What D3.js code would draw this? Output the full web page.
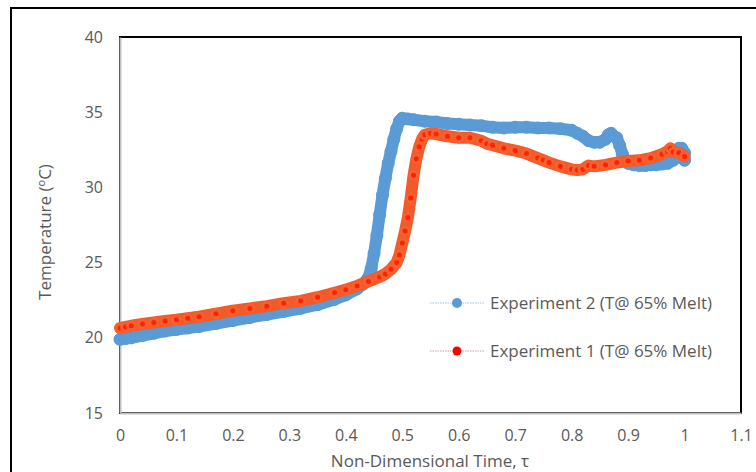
<!DOCTYPE html>
<html>
<head>
<meta charset="utf-8">
<script src="https://cdn.jsdelivr.net/npm/d3@7"></script>
<style>
  html, body { margin: 0; padding: 0; background: #fff; }
  svg { display: block; }
  text { font-family: "Liberation Sans Narrow", "Open Sans", "Noto Sans", sans-serif; fill: #595959; }
</style>
</head>
<body>
<svg id="chart" width="756" height="472"></svg>
<script>
// Experiment 2 (T @ 65% melt)
const exp2Tau = [0, 0.01, 0.02, 0.04, 0.06, 0.08, 0.1, 0.12, 0.14, 0.17, 0.2, 0.23, 0.26, 0.29, 0.32, 0.35, 0.38, 0.4, 0.42, 0.43, 0.44, 0.445, 0.45, 0.455, 0.46, 0.465, 0.47, 0.475, 0.48, 0.485, 0.49, 0.495, 0.5, 0.51, 0.52, 0.54, 0.56, 0.58, 0.6, 0.62, 0.64, 0.66, 0.68, 0.7, 0.72, 0.74, 0.76, 0.78, 0.8, 0.81, 0.82, 0.83, 0.84, 0.85, 0.86, 0.865, 0.87, 0.875, 0.88, 0.885, 0.89, 0.895, 0.9, 0.91, 0.92, 0.93, 0.94, 0.95, 0.96, 0.97, 0.98, 0.99, 0.995, 1.0, 1.0];
const exp2Temp = [19.9, 19.95, 20.0, 20.15, 20.3, 20.45, 20.55, 20.65, 20.75, 20.95, 21.15, 21.35, 21.55, 21.75, 21.95, 22.2, 22.55, 22.85, 23.25, 23.55, 24.0, 24.6, 25.6, 26.8, 28.2, 29.5, 30.6, 31.6, 32.4, 33.2, 33.9, 34.4, 34.6, 34.55, 34.5, 34.4, 34.35, 34.25, 34.2, 34.15, 34.1, 34.0, 33.95, 34.0, 34.0, 33.95, 33.95, 33.9, 33.8, 33.6, 33.4, 33.1, 33.0, 33.0, 33.2, 33.5, 33.6, 33.4, 33.3, 32.8, 32.2, 31.8, 31.6, 31.5, 31.45, 31.45, 31.5, 31.5, 31.55, 31.6, 31.8, 32.6, 32.6, 32.3, 31.8];

// Experiment 1 (T @ 65% melt)
const exp1Tau = [0, 0.01, 0.02, 0.04, 0.06, 0.08, 0.1, 0.12, 0.14, 0.17, 0.2, 0.23, 0.26, 0.29, 0.32, 0.35, 0.38, 0.4, 0.42, 0.44, 0.46, 0.47, 0.48, 0.49, 0.495, 0.5, 0.505, 0.51, 0.515, 0.52, 0.525, 0.53, 0.535, 0.54, 0.55, 0.56, 0.58, 0.6, 0.62, 0.64, 0.65, 0.66, 0.68, 0.7, 0.72, 0.74, 0.75, 0.76, 0.78, 0.8, 0.81, 0.82, 0.83, 0.84, 0.86, 0.88, 0.9, 0.92, 0.94, 0.96, 0.97, 0.975, 0.98, 0.99, 1.0];
const exp1Temp = [20.65, 20.72, 20.8, 20.92, 21.02, 21.12, 21.2, 21.3, 21.4, 21.6, 21.8, 21.95, 22.1, 22.3, 22.45, 22.7, 23.0, 23.2, 23.45, 23.75, 24.05, 24.25, 24.55, 25.0, 25.5, 26.3, 27.1, 28.0, 29.3, 30.8, 31.9, 32.7, 33.2, 33.5, 33.6, 33.55, 33.4, 33.3, 33.3, 33.1, 32.9, 32.8, 32.6, 32.45, 32.25, 31.95, 31.8, 31.65, 31.4, 31.2, 31.15, 31.2, 31.45, 31.4, 31.5, 31.65, 31.75, 31.8, 31.95, 32.2, 32.4, 32.6, 32.35, 32.3, 32.05];

const xTicks = [0, 0.1, 0.2, 0.3, 0.4, 0.5, 0.6, 0.7, 0.8, 0.9, 1, 1.1];
const yTicks = [15, 20, 25, 30, 35, 40];
const seriesNames = ["Experiment 2 (T@ 65% Melt)", "Experiment 1 (T@ 65% Melt)"];

const svg = d3.select("#chart");
const plot = { left: 120, top: 37, right: 741, bottom: 413 };

const x = d3.scaleLinear().domain([0, 1.1]).range([plot.left, plot.right]);
const y = d3.scaleLinear().domain([15, 40]).range([plot.bottom, plot.top]);

// outer chart frame
svg.append("rect")
  .attr("x", 11).attr("y", 8).attr("width", 800).attr("height", 500)
  .attr("fill", "none").attr("stroke", "#000").attr("stroke-width", 2);

// plot area frame
svg.append("rect")
  .attr("x", plot.left).attr("y", plot.top)
  .attr("width", plot.right - plot.left).attr("height", plot.bottom - plot.top)
  .attr("fill", "none").attr("stroke", "#000").attr("stroke-width", 2);

// axes (gray lines, no tick marks)
const xAxis = svg.append("g")
  .attr("transform", `translate(0,${plot.bottom})`)
  .call(d3.axisBottom(x).tickValues(xTicks).tickSize(0).tickPadding(17)
    .tickFormat(d => d3.format("~g")(d)));
xAxis.select(".domain").attr("stroke", "#bfbfbf").attr("stroke-width", 2);
xAxis.selectAll("text").attr("font-size", 16).attr("fill", "#595959");

const yAxis = svg.append("g")
  .attr("transform", `translate(${plot.left},0)`)
  .call(d3.axisLeft(y).tickValues(yTicks).tickSize(0).tickPadding(17));
yAxis.select(".domain").attr("stroke", "#bfbfbf").attr("stroke-width", 2);
yAxis.selectAll("text").attr("font-size", 16).attr("fill", "#595959");

// axis titles
svg.append("text")
  .attr("x", 430).attr("y", 467)
  .attr("text-anchor", "middle").attr("font-size", 17)
  .text("Non-Dimensional Time, τ");

const yTitle = svg.append("text")
  .attr("transform", "translate(51,232) rotate(-90)")
  .attr("text-anchor", "middle").attr("font-size", 17);
yTitle.append("tspan").text("Temperature (");
yTitle.append("tspan").attr("font-size", 11).attr("dy", -6).text("o");
yTitle.append("tspan").attr("dy", 6).text("C)");

const line = d3.line().x(d => x(d[0])).y(d => y(d[1])).curve(d3.curveLinear);

function drawSeries(tau, temp, cfg) {
  const pts = tau.map((t, i) => [t, temp[i]]);
  const g = svg.append("g");
  // dense markers merge into a wide band
  g.append("path").datum(pts).attr("d", line)
    .attr("fill", "none").attr("stroke", cfg.band)
    .attr("stroke-width", cfg.width).attr("stroke-linejoin", "round").attr("stroke-linecap", "round");
  g.selectAll("circle").data(pts).join("circle")
    .attr("cx", d => x(d[0])).attr("cy", d => y(d[1]))
    .attr("r", cfg.r).attr("fill", cfg.fill)
    .attr("stroke", cfg.stroke).attr("stroke-width", cfg.sw);
}

const styles = [
  { band: "#5b9bd5", fill: "#5b9bd5", stroke: "#5b9bd5", r: 6, sw: 1, width: 12, legendLine: "#9dc3e6" },
  { band: "#f25a2a", fill: "#ff2200", stroke: "#f46030", r: 4, sw: 3, width: 12, legendLine: "#c9a29c" }
];

drawSeries(exp2Tau, exp2Temp, styles[0]);
drawSeries(exp1Tau, exp1Temp, styles[1]);

// legend
const legendY = [303, 351];
seriesNames.forEach((name, i) => {
  const g = svg.append("g").attr("transform", `translate(0,${legendY[i]})`);
  g.append("line").attr("x1", 430).attr("x2", 484).attr("y1", 0).attr("y2", 0)
    .attr("stroke", styles[i].legendLine).attr("stroke-width", 1)
    .attr("stroke-dasharray", "1.5 1");
  g.append("circle").attr("cx", 457).attr("cy", 0).attr("r", i === 0 ? 5 : 4.5)
    .attr("fill", i === 0 ? "#5b9bd5" : "#ff0000");
  g.append("text").attr("x", 490).attr("y", 6).attr("font-size", 17).text(name);
});
</script>
</body>
</html>
